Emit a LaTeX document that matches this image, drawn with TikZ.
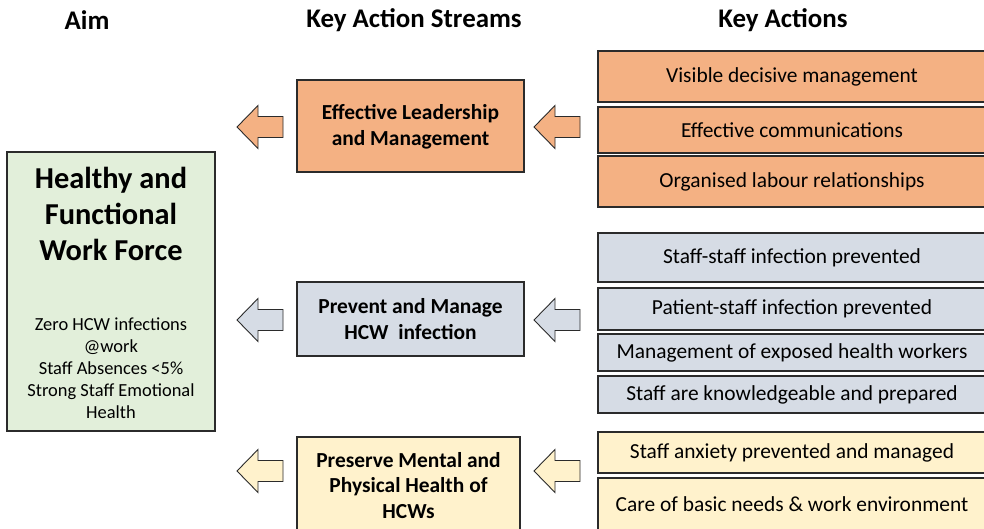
\documentclass[tikz,border=0pt]{standalone}
\usepackage{fontspec}
\setmainfont{Carlito}
\definecolor{orfill}{HTML}{F4B183}
\definecolor{blfill}{HTML}{D6DCE5}
\definecolor{yefill}{HTML}{FFF2CC}
\definecolor{grfill}{HTML}{E2EFDA}
\definecolor{edge}{HTML}{2B2B2B}
\tikzset{
  boxbase/.style={draw=edge, line width=1.2pt},
  heading/.style={font=\fontsize{27}{30}\selectfont\bfseries, anchor=center},
  streamtext/.style={font=\fontsize{21.5}{26}\selectfont\bfseries, align=center, anchor=center},
  actiontext/.style={font=\fontsize{21.5}{24}\selectfont, anchor=center},
}
\newcommand{\blockarrow}[4]{% name, tip x, center y, fill
  \coordinate (#1) at (#2,#3);
  \draw[boxbase, line width=0.9pt, fill=#4]
    (#2,#3) -- ++(21,-21.5) -- ++(0,11) -- ++(25,0) -- ++(0,21) -- ++(-25,0) -- ++(0,11) -- cycle;
}
\begin{document}
\begin{tikzpicture}[x=1bp,y=-1bp]
\useasboundingbox (0,0) rectangle (984,529);
\fill[white] (0,0) rectangle (984,529);
% headings
\node[heading] (hAim) at (87,20) {Aim};
\node[heading] (hStreams) at (414,20) {Key Action Streams};
\node[heading] (hActions) at (783,20) {Key Actions};
% aim box
\draw[boxbase, fill=grfill] (7,152) rectangle (215,431);
\node (aimT) at (111,214) [font=\fontsize{30.5}{36.5}\selectfont\bfseries, align=center] {Healthy and\\Functional\\Work Force};
\node (aimS) at (111,368) [font=\fontsize{18.5}{22}\selectfont, align=center] {Zero HCW infections\\@work\\Staff Absences <5\%\\Strong Staff Emotional\\Health};
% stream boxes
\draw[boxbase, fill=orfill] (297,80) rectangle (524,172);
\node[streamtext] (s1) at (410.5,127) {Effective Leadership\\and Management};
\draw[boxbase, fill=blfill] (297,282) rectangle (524,356);
\node[streamtext] (s2) at (410.5,319.5) {Prevent and Manage\\HCW\ \ infection};
\draw[boxbase, fill=yefill] (297,437) rectangle (520,531);
\node[streamtext] (s3) at (408.5,485.5) {Preserve Mental and\\Physical Health of\\HCWs};
% arrows
\blockarrow{la1}{237}{127}{orfill}
\blockarrow{ra1}{534}{127}{orfill}
\blockarrow{la2}{237}{320}{blfill}
\blockarrow{ra2}{534}{320}{blfill}
\blockarrow{la3}{237}{471}{yefill}
\blockarrow{ra3}{534}{471}{yefill}
% action boxes
\draw[boxbase, fill=orfill] (598,51) rectangle (986,102);
\node[actiontext] (a1) at (792,76.5) {Visible decisive management};
\draw[boxbase, fill=orfill] (598,107) rectangle (986,153);
\node[actiontext] (a2) at (792,130) {Effective communications};
\draw[boxbase, fill=orfill] (598,156) rectangle (986,207);
\node[actiontext] (a3) at (792,181.5) {Organised labour relationships};
\draw[boxbase, fill=blfill] (598,233) rectangle (986,282);
\node[actiontext] (b1) at (792,257.5) {Staff-staff infection prevented};
\draw[boxbase, fill=blfill] (598,288) rectangle (986,330);
\node[actiontext] (b2) at (792,309) {Patient-staff infection prevented};
\draw[boxbase, fill=blfill] (598,334) rectangle (986,371);
\node[actiontext] (b3) at (792,352.5) {Management of exposed health workers};
\draw[boxbase, fill=blfill] (598,376) rectangle (986,413);
\node[actiontext] (b4) at (792,394.5) {Staff are knowledgeable and prepared};
\draw[boxbase, fill=yefill] (598,432) rectangle (986,473);
\node[actiontext] (c1) at (792,452.5) {Staff anxiety prevented and managed};
\draw[boxbase, fill=yefill] (598,478) rectangle (986,531);
\node[actiontext] (c2) at (792,504) {Care of basic needs \& work environment};
\end{tikzpicture}
\end{document}
